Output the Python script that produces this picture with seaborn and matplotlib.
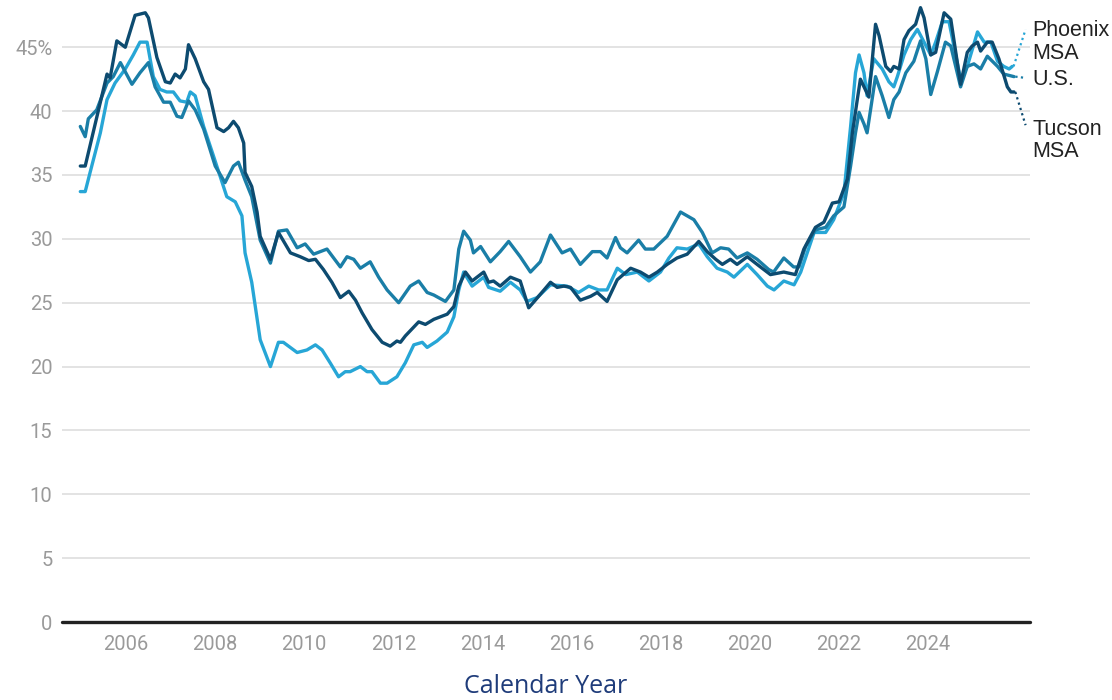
import pandas as pd
import matplotlib
matplotlib.use("Agg")
import matplotlib.pyplot as plt
import seaborn as sns

# Share of ... (%)
phoenix_year = [2004.97, 2005.08, 2005.19, 2005.42, 2005.57, 2005.75, 2005.98, 2006.16, 2006.31, 2006.47,
                2006.61, 2006.76, 2006.91, 2007.06, 2007.21, 2007.36, 2007.44, 2007.55, 2007.74, 2007.96,
                2008.11, 2008.26, 2008.45, 2008.6, 2008.67, 2008.82, 2009.01, 2009.24, 2009.42, 2009.53,
                2009.84, 2010.06, 2010.25, 2010.4, 2010.58, 2010.77, 2010.92, 2011.03, 2011.26, 2011.41,
                2011.52, 2011.71, 2011.86, 2012.08, 2012.27, 2012.46, 2012.65, 2012.76, 2012.98, 2013.21,
                2013.36, 2013.47, 2013.58, 2013.77, 2014.03, 2014.14, 2014.4, 2014.63, 2014.85, 2015.0,
                2015.23, 2015.53, 2015.9, 2016.16, 2016.39, 2016.61, 2016.8, 2017.03, 2017.22, 2017.48,
                2017.74, 2018.0, 2018.19, 2018.37, 2018.6, 2018.86, 2019.05, 2019.27, 2019.5, 2019.65,
                2019.95, 2020.17, 2020.4, 2020.55, 2020.77, 2021.0, 2021.15, 2021.45, 2021.71, 2021.89,
                2022.12, 2022.27, 2022.38, 2022.46, 2022.57, 2022.64, 2022.79, 2022.98, 2023.13, 2023.24,
                2023.32, 2023.47, 2023.62, 2023.77, 2023.92, 2024.07, 2024.18, 2024.33, 2024.48, 2024.74,
                2024.89, 2025.12, 2025.27, 2025.42, 2025.57, 2025.71, 2025.83, 2025.9]
phoenix_val = [33.7, 33.7, 35.2, 38.3, 40.9, 42.2, 43.3, 44.4, 45.4, 45.4,
               42.7, 41.7, 41.5, 41.5, 40.8, 40.7, 41.5, 41.2, 38.8, 36.5,
               34.9, 33.3, 32.9, 31.8, 28.9, 26.6, 22.1, 20.0, 21.9, 21.9,
               21.1, 21.3, 21.7, 21.3, 20.3, 19.2, 19.6, 19.6, 20.0, 19.6,
               19.6, 18.7, 18.7, 19.2, 20.3, 21.7, 21.9, 21.5, 22.0, 22.7,
               23.9, 26.0, 27.4, 26.3, 27.0, 26.2, 25.9, 26.6, 26.0, 25.1,
               25.4, 26.4, 26.3, 25.8, 26.3, 26.0, 26.0, 27.7, 27.2, 27.4,
               26.7, 27.4, 28.5, 29.3, 29.2, 29.6, 28.6, 27.7, 27.4, 27.0,
               28.0, 27.2, 26.3, 26.0, 26.7, 26.4, 27.4, 30.5, 30.5, 31.5,
               33.6, 38.8, 43.0, 44.4, 43.0, 41.2, 44.1, 43.3, 42.3, 41.9,
               42.7, 44.4, 45.6, 46.4, 45.4, 44.4, 45.4, 47.0, 47.0, 42.5,
               43.5, 46.2, 45.4, 45.4, 43.9, 43.5, 43.3, 43.5]

us_year = [2004.97, 2005.08, 2005.15, 2005.34, 2005.57, 2005.71, 2005.87, 2006.13, 2006.31, 2006.5,
           2006.65, 2006.84, 2006.99, 2007.14, 2007.25, 2007.4, 2007.55, 2007.74, 2008.0, 2008.22,
           2008.41, 2008.52, 2008.67, 2008.82, 2009.01, 2009.24, 2009.42, 2009.61, 2009.84, 2010.02,
           2010.21, 2010.51, 2010.81, 2010.96, 2011.11, 2011.26, 2011.48, 2011.67, 2011.86, 2012.12,
           2012.38, 2012.57, 2012.76, 2012.91, 2013.17, 2013.36, 2013.47, 2013.58, 2013.73, 2013.8,
           2013.96, 2014.18, 2014.4, 2014.59, 2014.85, 2015.08, 2015.3, 2015.53, 2015.79, 2015.98,
           2016.2, 2016.47, 2016.65, 2016.8, 2016.99, 2017.1, 2017.25, 2017.51, 2017.66, 2017.85,
           2018.15, 2018.45, 2018.6, 2018.75, 2018.94, 2019.16, 2019.35, 2019.53, 2019.72, 2019.95,
           2020.17, 2020.43, 2020.54, 2020.77, 2020.99, 2021.11, 2021.26, 2021.48, 2021.71, 2021.89,
           2022.12, 2022.27, 2022.38, 2022.46, 2022.57, 2022.64, 2022.83, 2022.98, 2023.13, 2023.24,
           2023.36, 2023.51, 2023.69, 2023.84, 2023.96, 2024.07, 2024.22, 2024.4, 2024.52, 2024.74,
           2024.89, 2025.04, 2025.19, 2025.34, 2025.57, 2025.71, 2025.94]
us_val = [38.8, 38.0, 39.4, 40.1, 42.2, 42.7, 43.8, 42.1, 43.0, 43.8,
          41.9, 40.7, 40.7, 39.6, 39.5, 40.8, 40.1, 38.6, 35.7, 34.4,
          35.7, 36.0, 34.6, 33.3, 29.9, 28.1, 30.6, 30.7, 29.3, 29.6,
          28.8, 29.2, 27.8, 28.6, 28.4, 27.7, 28.2, 27.0, 26.0, 25.0,
          26.3, 26.7, 25.8, 25.6, 25.1, 26.0, 29.2, 30.6, 29.9, 28.9,
          29.4, 28.2, 29.0, 29.8, 28.6, 27.4, 28.2, 30.3, 28.9, 29.2,
          28.0, 29.0, 29.0, 28.5, 30.1, 29.3, 28.9, 29.9, 29.2, 29.2,
          30.2, 32.1, 31.8, 31.5, 30.5, 28.9, 29.3, 29.2, 28.5, 28.9,
          28.4, 27.6, 27.4, 28.5, 27.8, 27.8, 29.4, 30.7, 30.9, 31.8,
          32.5, 35.7, 38.3, 39.9, 39.0, 38.3, 42.7, 41.2, 39.5, 40.9,
          41.5, 43.0, 43.9, 45.5, 44.1, 41.3, 43.1, 45.4, 45.1, 41.9,
          43.5, 43.7, 43.3, 44.3, 43.5, 42.9, 42.7]

tucson_year = [2004.97, 2005.08, 2005.57, 2005.64, 2005.79, 2005.98, 2006.2, 2006.43, 2006.5, 2006.69,
               2006.88, 2006.99, 2007.1, 2007.21, 2007.33, 2007.4, 2007.55, 2007.74, 2007.85, 2008.04,
               2008.19, 2008.3, 2008.41, 2008.52, 2008.64, 2008.67, 2008.82, 2008.94, 2009.01, 2009.24,
               2009.42, 2009.69, 2009.91, 2010.1, 2010.25, 2010.43, 2010.62, 2010.81, 2011.0, 2011.15,
               2011.3, 2011.52, 2011.75, 2011.93, 2012.08, 2012.16, 2012.27, 2012.57, 2012.72, 2012.91,
               2013.21, 2013.36, 2013.47, 2013.62, 2013.77, 2013.88, 2014.03, 2014.14, 2014.25, 2014.4,
               2014.63, 2014.85, 2015.04, 2015.19, 2015.53, 2015.68, 2015.83, 2015.98, 2016.2, 2016.43,
               2016.58, 2016.8, 2017.03, 2017.33, 2017.55, 2017.74, 2017.93, 2018.15, 2018.37, 2018.6,
               2018.86, 2019.05, 2019.24, 2019.39, 2019.57, 2019.72, 2019.95, 2020.17, 2020.47, 2020.77,
               2021.03, 2021.22, 2021.48, 2021.67, 2021.86, 2022.01, 2022.2, 2022.31, 2022.42, 2022.49,
               2022.68, 2022.83, 2022.91, 2023.06, 2023.17, 2023.24, 2023.36, 2023.47, 2023.58, 2023.73,
               2023.84, 2023.92, 2024.07, 2024.18, 2024.37, 2024.52, 2024.74, 2024.89, 2025.0, 2025.12,
               2025.19, 2025.34, 2025.45, 2025.6, 2025.79, 2025.87, 2025.94]
tucson_val = [35.7, 35.7, 42.9, 42.6, 45.5, 45.0, 47.5, 47.7, 47.3, 44.2,
              42.3, 42.2, 42.9, 42.6, 43.3, 45.2, 44.1, 42.3, 41.7, 38.7,
              38.4, 38.7, 39.2, 38.7, 37.5, 35.2, 34.1, 32.1, 30.2, 28.4,
              30.5, 28.9, 28.6, 28.3, 28.4, 27.6, 26.6, 25.4, 25.9, 25.2,
              24.2, 22.9, 21.9, 21.6, 22.0, 21.9, 22.4, 23.5, 23.3, 23.7,
              24.1, 24.7, 26.3, 27.4, 26.7, 27.0, 27.4, 26.6, 26.7, 26.3,
              27.0, 26.7, 24.6, 25.2, 26.6, 26.2, 26.3, 26.2, 25.2, 25.5,
              25.8, 25.1, 26.8, 27.7, 27.4, 27.0, 27.4, 28.0, 28.5, 28.8,
              29.8, 29.0, 28.4, 28.0, 28.4, 28.0, 28.6, 28.0, 27.2, 27.4,
              27.2, 29.2, 30.9, 31.3, 32.8, 32.9, 34.7, 38.3, 40.9, 42.5,
              41.1, 46.8, 45.9, 43.5, 43.1, 43.5, 43.3, 45.6, 46.3, 46.8,
              48.1, 47.3, 44.4, 44.6, 47.7, 47.2, 42.1, 44.6, 45.1, 45.4,
              44.7, 45.4, 45.4, 44.1, 41.9, 41.5, 41.5]

series_names = ["Phoenix MSA", "U.S.", "Tucson MSA"]
series_labels = ["Phoenix\nMSA", "U.S.", "Tucson\nMSA"]
colors = ["#27a6d6", "#1a7ea7", "#0d4b70"]
year_ticks = list(range(2006, 2026, 2))
value_ticks = [0, 5, 10, 15, 20, 25, 30, 35, 40, 45]

df = pd.concat([
    pd.DataFrame({"year": phoenix_year, "value": phoenix_val, "series": series_names[0]}),
    pd.DataFrame({"year": us_year, "value": us_val, "series": series_names[1]}),
    pd.DataFrame({"year": tucson_year, "value": tucson_val, "series": series_names[2]}),
], ignore_index=True)

sns.set_style("white")
plt.rcParams["font.family"] = ["Roboto", "DejaVu Sans"]

fig = plt.figure(figsize=(11.12, 7.0), dpi=100)
ax = fig.add_axes([0.0558, 0.1114, 0.8705, 0.8886])

sns.lineplot(data=df, x="year", y="value", hue="series", hue_order=series_names,
             palette=colors, estimator=None, sort=False, linewidth=2.4,
             legend=False, ax=ax)

ax.set_xlim(2004.56, 2026.3)
ax.set_ylim(0, 48.7)
ax.set_xticks(year_ticks)
ax.set_yticks(value_ticks)
ax.set_yticklabels([f"{v}%" if v == 45 else str(v) for v in value_ticks])
ax.tick_params(axis="both", length=0, labelsize=14.5, labelcolor="#9a9a9a")
ax.tick_params(axis="x", pad=9)
ax.tick_params(axis="y", pad=7)
for v in value_ticks[1:]:
    ax.axhline(v, color="#e3e3e3", linewidth=1.4, zorder=0)
ax.axhline(0, color="#222222", linewidth=2.4, zorder=3, clip_on=False)
for s in ax.spines.values():
    s.set_visible(False)
ax.set_ylabel("")
ax.set_xlabel("Calendar Year", fontsize=18, color="#1f3c7a",
              family=["Open Sans", "DejaVu Sans"], labelpad=15)

# end labels with dotted leaders
last_vals = [phoenix_val[-1], us_val[-1], tucson_val[-1]]
last_years = [phoenix_year[-1], us_year[-1], tucson_year[-1]]
leader_ends = [46.4, 42.6, 38.9]
label_centers = [45.4, 42.5, 37.7]
for name, lab, col, x0, y0, y1, yc in zip(series_names, series_labels, colors, last_years,
                                         last_vals, leader_ends, label_centers):
    ax.plot([x0 + 0.03, 2026.2], [y0, y1], linestyle=(0, (1, 1.5)), color=col,
            linewidth=1.6, clip_on=False)
    ax.text(2026.36, yc, lab, ha="left", va="center", fontsize=15.5, color="#222222",
            family=["Liberation Sans", "DejaVu Sans"], linespacing=1.12, clip_on=False)

fig.savefig("out.png", dpi=100)
